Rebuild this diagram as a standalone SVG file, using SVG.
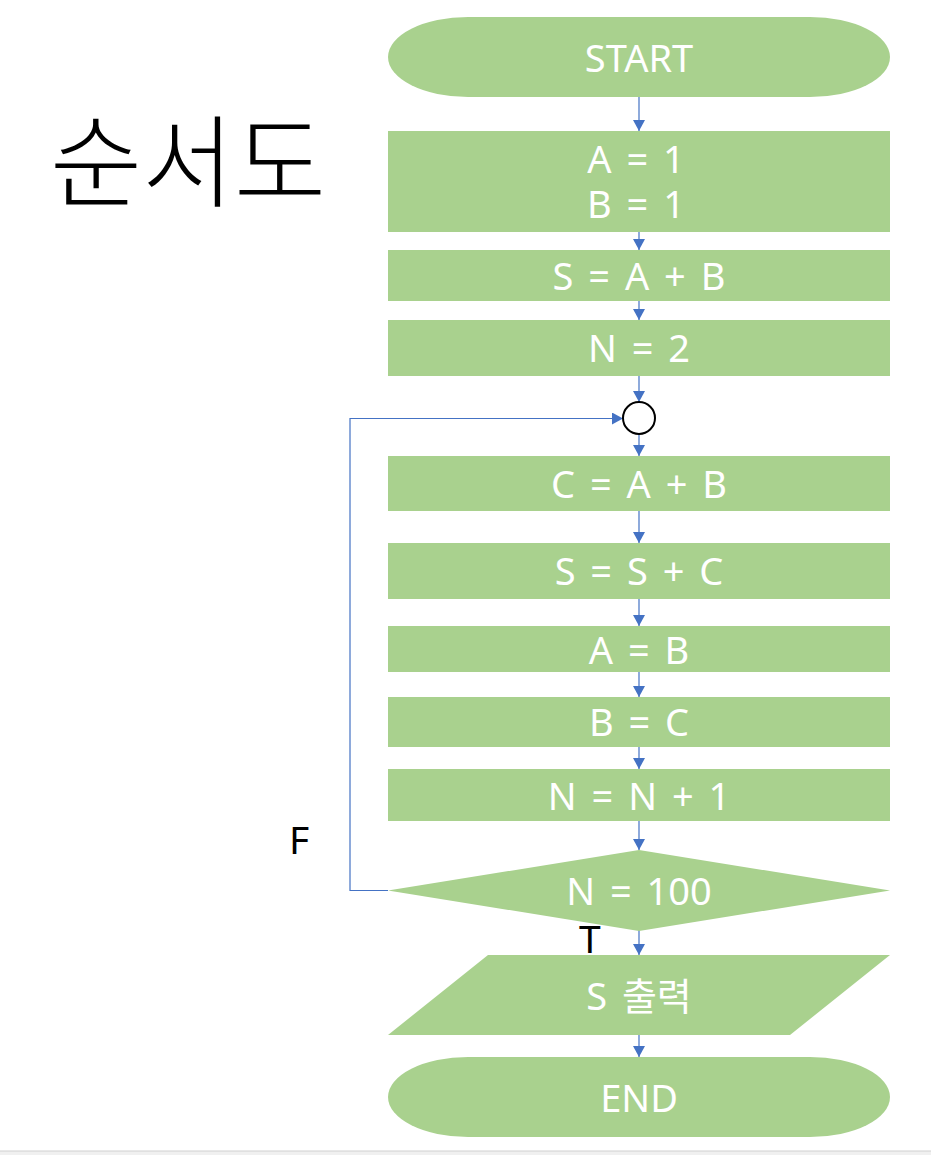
<svg xmlns="http://www.w3.org/2000/svg" width="931" height="1155" viewBox="0 0 931 1155">
<style>
.shape{fill:#A9D18E;}
.lbl{fill:#FFFFFF;font-family:"Noto Sans","Noto Sans CJK KR",sans-serif;font-size:38px;text-anchor:middle;word-spacing:5px;}
.blk{fill:#000000;font-family:"Noto Sans","Noto Sans CJK KR",sans-serif;font-size:39px;}
.conn{stroke:#4472C4;stroke-width:1.2;fill:none;}
</style>
<defs>
<marker id="arr" markerUnits="userSpaceOnUse" markerWidth="11" markerHeight="12" viewBox="0 0 11 12" refX="11" refY="6" orient="auto">
<path d="M0,0 L11,6 L0,12 z" fill="#4472C4"/>
</marker>
</defs>
<rect x="0" y="0" width="931" height="1155" fill="#FFFFFF"/>
<rect x="0" y="1151" width="931" height="4" fill="#F0F0F0"/>
<line x1="0" y1="1151" x2="931" y2="1151" stroke="#D0D0D0" stroke-width="1"/>

<text id="title" x="50" y="199" style="font-family:'Noto Sans CJK KR','Noto Sans',sans-serif;font-size:100px;font-weight:300;fill:#000">순서도</text>

<g id="connectors">
<line class="conn" x1="639" y1="97" x2="639" y2="131" marker-end="url(#arr)"/>
<line class="conn" x1="639" y1="232" x2="639" y2="250" marker-end="url(#arr)"/>
<line class="conn" x1="639" y1="301" x2="639" y2="320" marker-end="url(#arr)"/>
<line class="conn" x1="639" y1="376" x2="639" y2="402" marker-end="url(#arr)"/>
<line class="conn" x1="639" y1="434" x2="639" y2="456" marker-end="url(#arr)"/>
<line class="conn" x1="639" y1="511" x2="639" y2="543" marker-end="url(#arr)"/>
<line class="conn" x1="639" y1="599" x2="639" y2="626" marker-end="url(#arr)"/>
<line class="conn" x1="639" y1="672" x2="639" y2="697" marker-end="url(#arr)"/>
<line class="conn" x1="639" y1="747" x2="639" y2="769" marker-end="url(#arr)"/>
<line class="conn" x1="639" y1="821" x2="639" y2="850" marker-end="url(#arr)"/>
<line class="conn" x1="639" y1="930" x2="639" y2="955" marker-end="url(#arr)"/>
<line class="conn" x1="639" y1="1035" x2="639" y2="1057" marker-end="url(#arr)"/>
<path class="conn" d="M388,890.5 L350,890.5 L350,418.5 L623,418.5" marker-end="url(#arr)"/>
<text class="blk" x="289" y="854">F</text>
<text class="blk" x="579" y="953">T</text>
</g>

<g id="start">
<rect class="shape" x="388" y="17" width="502" height="80" rx="80" ry="40"/>
<text class="lbl" x="639" y="72">START</text>
</g>
<g id="init">
<rect class="shape" x="388" y="131" width="502" height="101"/>
<text class="lbl" x="636" y="173"><tspan x="636" y="173">A = 1</tspan><tspan x="636" y="218">B = 1</tspan></text>
</g>
<g id="sum">
<rect class="shape" x="388" y="250" width="502" height="51"/>
<text class="lbl" x="639" y="290">S = A + B</text>
</g>
<g id="n2">
<rect class="shape" x="388" y="320" width="502" height="56"/>
<text class="lbl" x="639" y="362">N = 2</text>
</g>
<g id="join">
<circle cx="639" cy="418" r="16" fill="#FFFFFF" stroke="#000000" stroke-width="2"/>
</g>
<g id="cab">
<rect class="shape" x="388" y="456" width="502" height="55"/>
<text class="lbl" x="639" y="498">C = A + B</text>
</g>
<g id="ssc">
<rect class="shape" x="388" y="543" width="502" height="56"/>
<text class="lbl" x="639" y="585">S = S + C</text>
</g>
<g id="ab">
<rect class="shape" x="388" y="626" width="502" height="46"/>
<text class="lbl" x="639" y="664">A = B</text>
</g>
<g id="bc">
<rect class="shape" x="388" y="697" width="502" height="50"/>
<text class="lbl" x="639" y="736">B = C</text>
</g>
<g id="inc">
<rect class="shape" x="388" y="769" width="502" height="52"/>
<text class="lbl" x="639" y="810">N = N + 1</text>
</g>
<g id="decision">
<polygon class="shape" points="639,850 890,890.5 639,931 388,890.5"/>
<text class="lbl" x="639" y="905">N = 100</text>
</g>
<g id="output">
<polygon class="shape" points="488,955 890,955 790,1035 388,1035"/>
<text class="lbl" x="639" y="1010">S 출력</text>
</g>
<g id="end">
<rect class="shape" x="388" y="1057" width="502" height="80" rx="80" ry="40"/>
<text class="lbl" x="639" y="1112">END</text>
</g>
</svg>
